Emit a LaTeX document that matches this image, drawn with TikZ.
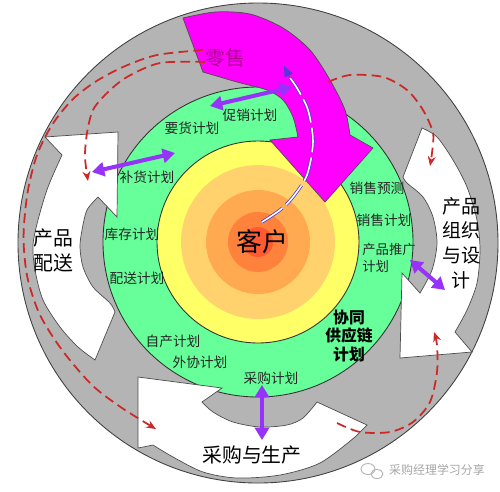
\documentclass[tikz,border=0pt]{standalone}
\usepackage{fontspec, tikz, xcolor}
\usetikzlibrary{arrows.meta}
\newfontfamily\cjk{Noto Sans CJK SC}
\definecolor{ringgray}{RGB}{180,180,180}
\definecolor{plangreen}{RGB}{102,255,153}
\definecolor{coreyellow}{RGB}{255,255,102}
\definecolor{coreone}{RGB}{255,210,110}
\definecolor{coretwo}{RGB}{255,170,80}
\definecolor{corethree}{RGB}{255,130,60}
\definecolor{corefour}{RGB}{255,90,50}
\definecolor{retailpink}{RGB}{255,0,255}
\definecolor{retailtext}{RGB}{170,0,140}
\definecolor{flowred}{RGB}{204,40,40}
\definecolor{linkpurple}{RGB}{150,50,250}
\definecolor{backblue}{RGB}{80,60,210}

\begin{document}
\begin{tikzpicture}[x=0.02cm, y=0.02cm,
    every node/.style={inner sep=0pt},
    plan/.style={font=\cjk\fontsize{7.8}{9.6}\selectfont, text=black!85},
    stage/.style={font=\cjk\fontsize{11.3}{14.2}\selectfont, align=center},
    wband/.style={fill=white, draw=black!70, line width=0.4pt},
    flow/.style={draw=flowred, line width=1pt, dash pattern=on 5.5pt off 3pt,
        -{Stealth[length=5.5pt,width=4.5pt]}},
    link/.style={draw=linkpurple, line width=2.3pt,
        {Triangle[length=7pt,width=8pt]}-{Triangle[length=7pt,width=8pt]}}]
    \useasboundingbox (0,0) rectangle (500,-491);

    % rings
    \filldraw[fill=ringgray, draw=black!75, line width=0.5pt] (258,-243) circle[radius=240];
    \filldraw[fill=plangreen, draw=black!80, line width=0.5pt] (258,-242) circle[radius=155];
    \filldraw[fill=coreyellow, draw=black!80, line width=0.5pt] (258,-242) circle[radius=101];
    \fill[coreone] (258,-242) circle[radius=77];
    \fill[coretwo] (258,-242) circle[radius=52];
    \fill[corethree] (258,-242) circle[radius=30];
    \fill[corefour] (258,-242) circle[radius=15];

    % white arrows
    \filldraw[wband] (118,-132) -- (117,-217) -- (98,-197)
        -- plot[smooth] coordinates {(98,-197) (87,-210) (82,-230) (80,-247) (83,-267) (93,-287) (110,-303) (115,-312)}
        -- (95,-360)
        -- plot[smooth] coordinates {(95,-360) (78,-347) (60,-327) (43,-300) (35,-270) (33,-245) (38,-220) (48,-187) (62,-155)}
        -- (45,-137) -- cycle;
    \filldraw[wband] (422,-128)
        -- plot[smooth] coordinates {(422,-128) (437,-137) (453,-160) (467,-187) (477,-220) (480,-250) (477,-283) (467,-310) (455,-332)}
        -- (472,-352) -- (400,-358) -- (402,-273) -- (420,-293)
        -- plot[smooth] coordinates {(420,-293) (432,-270) (437,-243) (433,-217) (423,-197) (407,-183) (403,-177)}
        -- cycle;
    \filldraw[wband] (138,-377) -- (222,-388) -- (202,-402)
        -- plot[smooth] coordinates {(202,-402) (213,-412) (233,-422) (260,-427) (287,-425) (303,-418) (317,-402)}
        -- (367,-425) -- (355,-437)
        -- plot[smooth] coordinates {(355,-437) (320,-463) (280,-475) (237,-478) (203,-472) (173,-457) (153,-445)}
        -- (138,-448) -- cycle;

    % retail arrow
    \filldraw[fill=retailpink, draw=black!70, line width=0.4pt] (183,-18)
        -- plot[smooth] coordinates {(183,-18) (215,-12) (250,-14) (283,-28) (310,-50) (330,-80) (345,-110) (350,-135)}
        -- (373,-148) -- (325,-202) -- (270,-140) -- (298,-137)
        -- plot[smooth] coordinates {(298,-137) (293,-117) (283,-100) (267,-90) (237,-82) (203,-72)}
        -- cycle;

    \coordinate (retailA) at (205,-62);
    \coordinate (retailB) at (203,-50);
    \coordinate (retailC) at (328,-82);
    \coordinate (deliverHead) at (88,-181);
    \coordinate (produceHead) at (156,-429);
    \coordinate (designTail) at (430,-166);
    \coordinate (produceTail) at (337,-423);
    \coordinate (designHead) at (434,-332);

    \draw[flow] plot[smooth] coordinates {(retailA) (160,-63) (127,-77) (107,-93) (93,-110) (87,-133) (85,-157) (deliverHead)};
    \draw[flow] plot[smooth] coordinates {(retailB) (157,-55) (123,-67) (95,-82) (72,-100) (52,-125) (37,-155) (28,-190) (24,-225) (24,-250) (28,-280) (40,-315) (62,-350) (92,-385) (122,-408) (produceHead)};
    \draw[flow] plot[smooth] coordinates {(retailC) (350,-75) (383,-77) (407,-90) (423,-110) (433,-133) (432,-153) (designTail)};
    \draw[flow] plot[smooth] coordinates {(produceTail) (360,-432) (390,-432) (413,-422) (430,-402) (437,-372) (437,-345) (designHead)};

    % feedback from the customer
    \coordinate (kehuTop) at (262,-222);
    \coordinate (backEnd) at (290,-78);
    \coordinate (backTip) at (284,-66);
    \draw[draw=backblue, double=white, double distance=0.9pt, line width=0.45pt, dash pattern=on 14pt off 3pt]
        plot[smooth] coordinates {(kehuTop) (280,-210) (293,-197) (307,-175) (313,-142) (308,-110) (297,-88) (backEnd)};
    \draw[backblue, line width=0.6pt, -{Triangle[length=6pt,width=5pt]}] (backEnd) -- (backTip);

    % links
    \coordinate (cxL) at (210,-106);
    \coordinate (cxR) at (292,-87);
    \coordinate (bhL) at (92,-172);
    \coordinate (bhR) at (175,-153);
    \coordinate (tgL) at (410,-260);
    \coordinate (tgR) at (445,-290);
    \coordinate (cgT) at (262,-385);
    \coordinate (cgB) at (262,-440);
    \draw[link] (cxL) -- (cxR);
    \draw[link] (bhL) -- (bhR);
    \draw[link] (tgL) -- (tgR);
    \draw[link] (cgT) -- (cgB);

    % labels
    \node[font=\cjk\fontsize{11.3}{13}\selectfont, text=retailtext] (retail) at (225,-58) {零售};
    \node[plan] (cuxiao) at (250,-115) {促销计划};
    \node[plan] (yaohuo) at (192,-128) {要货计划};
    \node[plan] (buhuo) at (147,-177) {补货计划};
    \node[plan] (kucun) at (132,-234) {库存计划};
    \node[plan] (peisong) at (137,-278) {配送计划};
    \node[plan] (zichan) at (173,-341) {自产计划};
    \node[plan] (waixie) at (200,-362) {外协计划};
    \node[plan] (caigou) at (271,-378) {采购计划};
    \node[plan] (xsyc) at (377,-188) {销售预测};
    \node[plan] (xsjh) at (384,-220) {销售计划};
    \node[plan, font=\cjk\fontsize{7.6}{9.6}\selectfont, align=left, anchor=west] (tuiguang) at (362,-258) {产品推广\\计划};
    \node[font=\cjk\bfseries\fontsize{9}{10.5}\selectfont, align=center] (xietong) at (349,-336) {协同\\供应链\\计划};
    \node[font=\cjk\fontsize{14.7}{16}\selectfont] (kehu) at (262,-242) {客户};
    \node[stage] (psong) at (53,-250) {产品\\配送};
    \node[stage, font=\cjk\fontsize{10.8}{14}\selectfont] (sheji) at (461,-243) {产品\\组织\\与设\\计};
    \node[stage] (shengchan) at (252,-455) {采购与生产};

    % watermark
    \draw[black!30, line width=0.5pt] (368,-469) ellipse[x radius=7, y radius=5.5];
    \draw[black!30, line width=0.5pt] (377,-474) ellipse[x radius=6, y radius=4.5];
    \node[font=\cjk\fontsize{6.8}{8}\selectfont, text=black!35] (mark) at (437,-470) {采购经理学习分享};
\end{tikzpicture}
\end{document}
